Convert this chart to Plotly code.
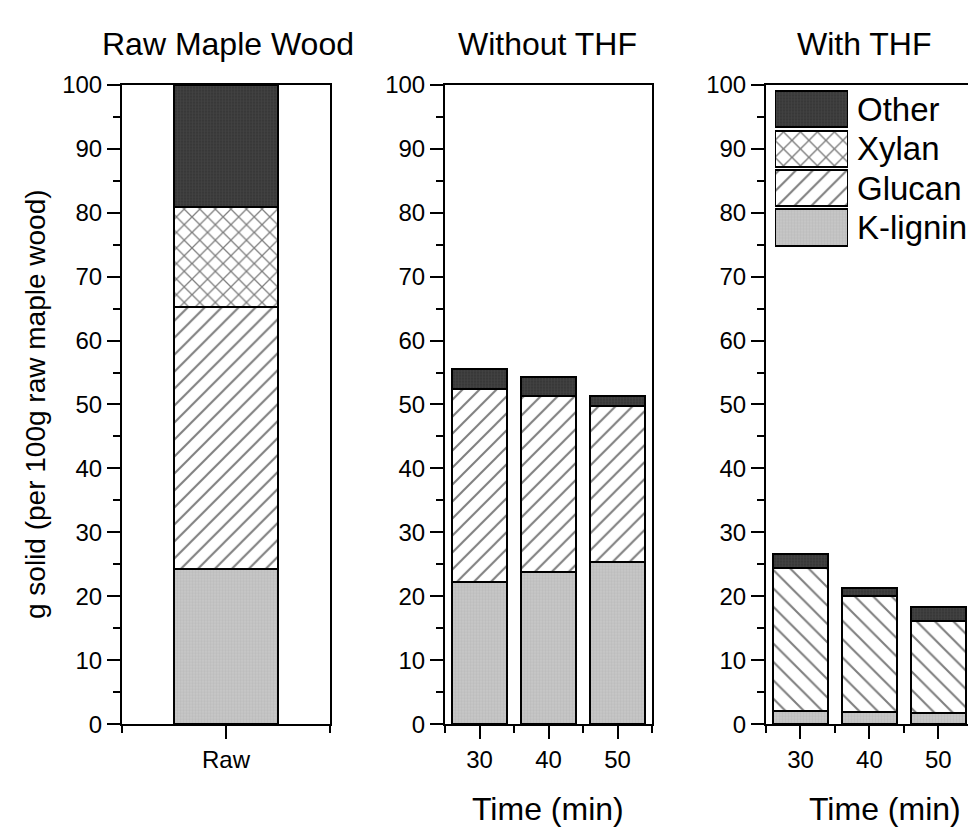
import plotly.graph_objects as go

W, H = 968, 838
FONT = "Liberation Sans, Arial, sans-serif"

# ---------------- data ----------------
components = ["K-lignin", "Glucan", "Xylan", "Other"]
legend_order = ["Other", "Xylan", "Glucan", "K-lignin"]

raw_cat = ["Raw"]
raw_klignin = [24.3]
raw_glucan = [41.0]
raw_xylan = [15.5]
raw_other = [19.2]

times = [30, 40, 50]
time_ticks = [30, 40, 50]

nothf_klignin = [22.3, 23.8, 25.4]
nothf_glucan = [30.2, 27.5, 24.4]
nothf_xylan = [0.0, 0.0, 0.0]
nothf_other = [3.1, 3.0, 1.5]

thf_klignin = [2.1, 1.9, 1.8]
thf_glucan = [22.4, 18.2, 14.3]
thf_xylan = [0.0, 0.0, 0.0]
thf_other = [2.1, 1.2, 2.3]

panel_titles = ["Raw Maple Wood", "Without THF", "With THF"]
y_title = "g solid (per 100g raw maple wood)"
x_title = "Time (min)"

# ---------------- styles ----------------
styles = {
    "K-lignin": dict(shape="+", bgcolor="#c6c6c6", fgcolor="#b0b0b0", size=3, solidity=0.35),
    "Glucan": dict(shape="/", bgcolor="white", fgcolor="black", size=12, solidity=0.17),
    "Xylan": dict(shape="x", bgcolor="white", fgcolor="black", size=11, solidity=0.22),
    "Other": dict(shape="+", bgcolor="#383838", fgcolor="#525252", size=3, solidity=0.35),
}
glucan_thf = dict(shape="\\", bgcolor="white", fgcolor="black", size=13, solidity=0.16)
LINE = dict(color="black", width=2)

def px_x(p):
    return p / W

def px_y(p):
    return 1 - p / H

fig = go.Figure()

raw_idx = list(range(len(raw_cat)))
raw_series = {"K-lignin": raw_klignin, "Glucan": raw_glucan, "Xylan": raw_xylan, "Other": raw_other}
nothf_series = {"K-lignin": nothf_klignin, "Glucan": nothf_glucan, "Xylan": nothf_xylan, "Other": nothf_other}
thf_series = {"K-lignin": thf_klignin, "Glucan": thf_glucan, "Xylan": thf_xylan, "Other": thf_other}

for comp in components:
    fig.add_trace(go.Bar(x=raw_idx, y=raw_series[comp], width=1.0, name=comp,
                         marker=dict(pattern=styles[comp], line=LINE),
                         xaxis="x", yaxis="y", showlegend=False))
for comp in components:
    vals = nothf_series[comp]
    if not any(vals):
        continue
    fig.add_trace(go.Bar(x=times, y=vals, width=8, name=comp,
                         marker=dict(pattern=styles[comp], line=LINE),
                         xaxis="x2", yaxis="y2", showlegend=False))
for comp in components:
    vals = thf_series[comp]
    if not any(vals):
        continue
    pat = glucan_thf if comp == "Glucan" else styles[comp]
    fig.add_trace(go.Bar(x=times, y=vals, width=8, name=comp,
                         marker=dict(pattern=pat, line=LINE),
                         xaxis="x3", yaxis="y3", showlegend=False))

# legend drawn as an inset bar chart (large swatches like the original)
fig.add_trace(go.Bar(
    y=legend_order, x=[1 for _ in legend_order], orientation="h",
    marker=dict(
        line=LINE,
        pattern=dict(
            shape=[styles[c]["shape"] for c in legend_order],
            bgcolor=[styles[c]["bgcolor"] for c in legend_order],
            fgcolor=[styles[c]["fgcolor"] for c in legend_order],
            size=[12 if c in ("Glucan", "Xylan") else 3 for c in legend_order],
            solidity=[styles[c]["solidity"] for c in legend_order],
        ),
    ),
    xaxis="x4", yaxis="y4", showlegend=False, hoverinfo="skip"))

ydom = [px_y(734), px_y(73)]
tickfont = dict(family=FONT, size=24, color="black")

common_y = dict(range=[0, 100], dtick=10, tick0=0, ticks="outside", ticklen=13, tickwidth=2,
                tickcolor="black", showline=True, linecolor="black", linewidth=2,
                showgrid=False, zeroline=False, tickfont=tickfont,
                minor=dict(dtick=5, tick0=0, ticks="outside", ticklen=7, tickwidth=2, tickcolor="black"),
                domain=ydom)
common_x = dict(ticks="outside", ticklen=13, tickwidth=2, tickcolor="black", showline=True,
                linecolor="black", linewidth=2, showgrid=False, zeroline=False, tickfont=tickfont,
                mirror=True)

fig.update_layout(
    width=W, height=H, margin=dict(l=0, r=0, t=0, b=0),
    paper_bgcolor="white", plot_bgcolor="white",
    barmode="stack", bargap=0.086,
    font=dict(family=FONT, color="black"),
    xaxis=dict(common_x, domain=[px_x(122), px_x(330)], range=[-1, 1], tickvals=raw_idx,
               ticktext=raw_cat, anchor="y",
               minor=dict(tickvals=[-1, 1], ticks="outside", ticklen=7, tickwidth=2, tickcolor="black")),
    yaxis=dict(common_y, anchor="x", mirror=True),
    xaxis2=dict(common_x, domain=[px_x(445), px_x(652)], range=[25, 55], tickvals=time_ticks,
                anchor="y2",
                minor=dict(dtick=10, tick0=25, ticks="outside", ticklen=7, tickwidth=2, tickcolor="black")),
    yaxis2=dict(common_y, anchor="x2", mirror=True),
    xaxis3=dict(common_x, domain=[px_x(766), 1.0], range=[25, 54.3], tickvals=time_ticks,
                anchor="y3",
                minor=dict(dtick=10, tick0=25, ticks="outside", ticklen=7, tickwidth=2, tickcolor="black")),
    yaxis3=dict(common_y, anchor="x3", mirror=False),
    xaxis4=dict(domain=[px_x(775), px_x(848)], range=[0, 1], visible=False, anchor="y4", fixedrange=True),
    yaxis4=dict(domain=[px_y(241), px_y(78)], autorange="reversed", anchor="x4", side="right",
                type="category", tickmode="array", tickvals=legend_order, ticktext=legend_order,
                showline=False, ticks="", showgrid=False, zeroline=False,
                ticklabelstandoff=8, tickfont=dict(family=FONT, size=33, color="black"),
                fixedrange=True),
    showlegend=False,
)

annotations = []
for text, cx in zip(panel_titles, [228, 547, 864]):
    annotations.append(dict(text=text, x=px_x(cx), y=px_y(31), xref="paper", yref="paper",
                            xanchor="center", yanchor="middle", showarrow=False,
                            font=dict(family=FONT, size=32, color="black")))
for cx in [548, 885]:
    annotations.append(dict(text=x_title, x=px_x(cx), y=px_y(821), xref="paper", yref="paper",
                            xanchor="center", yanchor="middle", showarrow=False,
                            font=dict(family=FONT, size=32, color="black")))
annotations.append(dict(text=y_title, x=px_x(35), y=px_y(403), xref="paper", yref="paper",
                        xanchor="center", yanchor="middle", textangle=-90, showarrow=False,
                        font=dict(family=FONT, size=28, color="black")))
fig.update_layout(annotations=annotations)

fig.write_html("out.html", config={"displayModeBar": False})
